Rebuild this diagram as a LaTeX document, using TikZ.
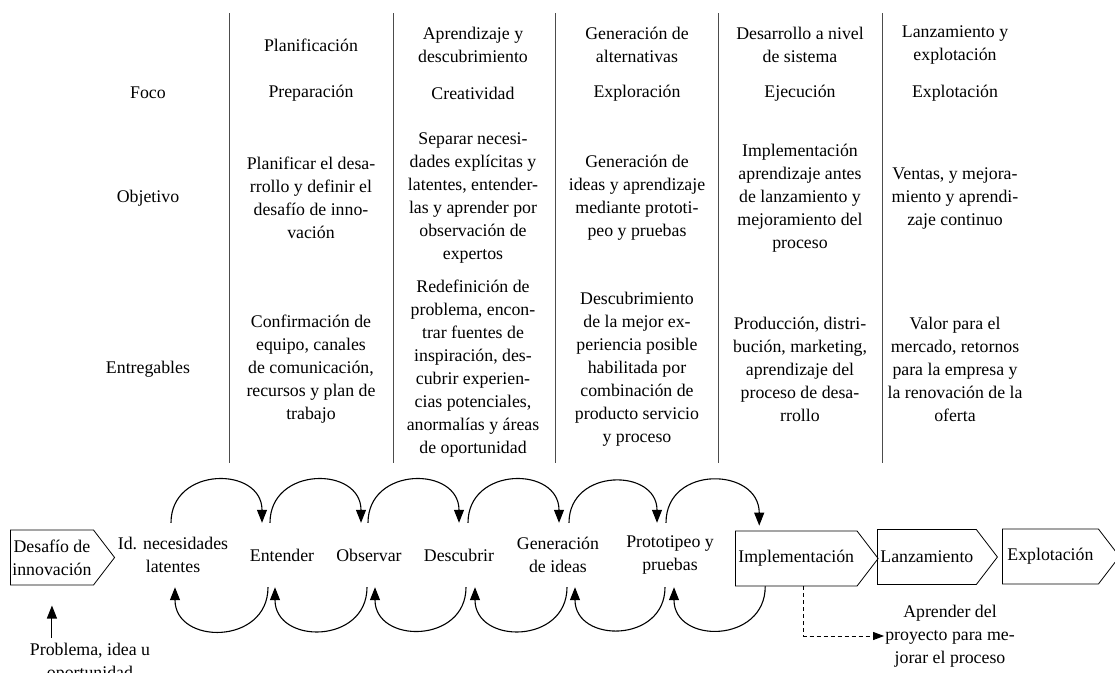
\documentclass[tikz,border=0pt]{standalone}
\usepackage{fontspec}
\setmainfont{Liberation Serif}
\usetikzlibrary{arrows.meta}
\usetikzlibrary{shapes.symbols}

\tikzset{
  hdr/.style={align=center, inner sep=1pt},
  colline/.style={draw=black!70, line width=0.8pt},
  stage/.style={draw, signal, signal to=east, signal pointer angle=105, align=center,
    minimum height=55pt, inner xsep=3pt, inner ysep=1pt, line width=0.8pt},
  flow/.style={align=center, minimum height=64pt, inner sep=1pt},
  cyc/.style={-{Triangle[length=13pt,width=10pt]}, line width=1.1pt, looseness=1.6},
}

\begin{document}
\begin{tikzpicture}[x=1pt, y=1pt, font=\fontsize{17.8}{23}\selectfont]
  \useasboundingbox (0,0) rectangle (1115,-672);

  \foreach \x in {229,393,555,718,882}
    \draw[colline] (\x,-13) -- (\x,-463);

  \node (t1) at (311,-45) [hdr] {Planificación};
  \node (t2) at (473,-45) [hdr] {Aprendizaje y\\descubrimiento};
  \node (t3) at (637,-45) [hdr] {Generación de\\alternativas};
  \node (t4) at (800,-45) [hdr] {Desarrollo a nivel\\de sistema};
  \node (t5) at (955,-45) [hdr] {Lanzamiento y\\explotación};

  \node (foco) at (148,-93) [hdr] {Foco};
  \node (f1) at (311,-93) [hdr] {Preparación};
  \node (f2) at (473,-93) [hdr] {Creatividad};
  \node (f3) at (637,-93) [hdr] {Exploración};
  \node (f4) at (800,-93) [hdr] {Ejecución};
  \node (f5) at (955,-93) [hdr] {Explotación};

  \node (obj) at (148,-198) [hdr] {Objetivo};
  \node (o1) at (311,-198) [hdr] {Planificar el desa-\\rrollo y definir el\\desafío de inno-\\vación};
  \node (o2) at (473,-198) [hdr] {Separar necesi-\\dades explícitas y\\latentes, entender-\\las y aprender por\\observación de\\expertos};
  \node (o3) at (637,-198) [hdr] {Generación de\\ideas y aprendizaje\\mediante prototi-\\peo y pruebas};
  \node (o4) at (800,-198) [hdr] {Implementación\\aprendizaje antes\\de lanzamiento y\\mejoramiento del\\proceso};
  \node (o5) at (955,-198) [hdr] {Ventas, y mejora-\\miento y aprendi-\\zaje continuo};

  \node (ent) at (148,-369) [hdr] {Entregables};
  \node (e1) at (311,-369) [hdr] {Confirmación de\\equipo, canales\\de comunicación,\\recursos y plan de\\trabajo};
  \node (e2) at (473,-369) [hdr] {Redefinición de\\problema, encon-\\trar fuentes de\\inspiración, des-\\cubrir experien-\\cias potenciales,\\anormalías y áreas\\de oportunidad};
  \node (e3) at (637,-369) [hdr] {Descubrimiento\\de la mejor ex-\\periencia posible\\habilitada por\\combinación de\\producto servicio\\y proceso};
  \node (e4) at (800,-369) [hdr] {Producción, distri-\\bución, marketing,\\aprendizaje del\\proceso de desa-\\rrollo};
  \node (e5) at (955,-369) [hdr] {Valor para el\\mercado, retornos\\para la empresa y\\la renovación de la\\oferta};

  \node (des) at (10,-557.5) [stage, anchor=west, inner xsep=2pt] {Desafío de\\innovación};
  \node (id) at (173,-555) [flow] {Id. necesidades\\latentes};
  \node (ente) at (282,-555) [flow] {Entender};
  \node (obs) at (369,-555) [flow] {Observar};
  \node (desc) at (459,-555) [flow] {Descubrir};
  \node (gen) at (558,-555) [flow] {Generación\\de ideas};
  \node (proto) at (670,-555) [flow] {Prototipeo y\\pruebas};
  \node (impl) at (735,-558.5) [stage, anchor=west] {Implementación};
  \node (lan) at (877,-557) [stage, anchor=west] {Lanzamiento};
  \node (expl) at (1002,-556.5) [stage, anchor=west, inner xsep=5pt] {Explotación};

  \draw[cyc] ([xshift=-2pt]id.north) to[out=90,in=90] ([xshift=-20pt]ente.north);
  \draw[cyc] ([xshift=-12pt]ente.north) to[out=90,in=90] ([xshift=-8pt]obs.north);
  \draw[cyc] ([xshift=-1pt]obs.north) to[out=90,in=90] (desc.north);
  \draw[cyc] ([xshift=9pt]desc.north) to[out=90,in=90] ([xshift=1pt]gen.north);
  \draw[cyc] ([xshift=11pt]gen.north) to[out=90,in=90] ([xshift=-13pt]proto.north);
  \draw[cyc] ([xshift=-4pt]proto.north) to[out=90,in=90] ([xshift=-37pt,yshift=5pt]impl.north);

  \draw[cyc] ([xshift=-14pt]ente.south) to[out=-90,in=-90] ([xshift=2pt]id.south);
  \draw[cyc] ([xshift=-2pt]obs.south) to[out=-90,in=-90] ([xshift=-7pt]ente.south);
  \draw[cyc] ([xshift=7pt]desc.south) to[out=-90,in=-90] ([xshift=6pt]obs.south);
  \draw[cyc] ([xshift=9pt]gen.south) to[out=-90,in=-90] ([xshift=16pt]desc.south);
  \draw[cyc] ([xshift=-5pt]proto.south) to[out=-90,in=-90] ([xshift=17pt]gen.south);
  \draw[cyc] ([xshift=-31pt]impl.south) to[out=-90,in=-90] ([xshift=4pt]proto.south);

  \node (prob) at (90,-642) [hdr, anchor=north] {Problema, idea u\\oportunidad};
  \coordinate (src) at (des.center |- prob.north);
  \draw[cyc] ([yshift=4pt]src) -- ([yshift=-48pt]des.center);

  \node (learn) at (950,-636) [hdr] {Aprender del\\proyecto para me-\\jorar el proceso};
  \draw[dash pattern=on 4pt off 3pt, line width=0.9pt, -{Triangle[length=11pt,width=8pt]}]
    ([xshift=7pt]impl.south) |- (learn.west);
\end{tikzpicture}
\end{document}
